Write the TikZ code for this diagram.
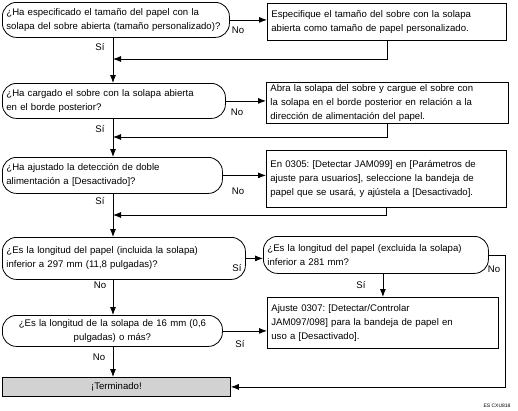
\documentclass[tikz,border=0pt]{standalone}
\usepackage{fontspec}
\setmainfont{Liberation Sans}
\usetikzlibrary{arrows.meta,positioning,calc}
\frenchspacing
\hyphenpenalty=10000

\begin{document}
\begin{tikzpicture}[
        x=1pt, y=-1pt,
        font=\fontsize{9.6}{14}\selectfont,
        question/.style={rectangle, draw=black, line width=0.8pt, rounded corners=14pt, anchor=north west, align=left, inner xsep=4pt, inner ysep=2pt},
        action/.style={rectangle, draw=black, line width=0.8pt, anchor=north west, align=left, inner xsep=4pt, inner ysep=2pt},
        finish/.style={rectangle, draw=black, line width=0.8pt, fill=gray!35, anchor=north west, align=center},
        lbl/.style={font=\fontsize{9.6}{11}\selectfont, inner sep=0pt},
        arrow/.style={-{Latex[length=8pt,width=6pt]}, line width=0.8pt},
        line/.style={line width=0.8pt}
    ]
    \useasboundingbox (0,0) rectangle (518,410);

    % main column
    \coordinate (spine) at (113,0);

    % Question 1
    \node[question, text width=219pt, minimum height=35pt] (q1) at (2,2) {¿Ha especificado el tamaño del papel con la\\solapa del sobre abierta (tamaño personalizado)?};
    \node[action, text width=231pt, minimum height=37pt] (a1) at (267,3) {Especifique el tamaño del sobre con la solapa\\abierta como tamaño de papel personalizado.};

    % Question 2
    \node[question, text width=215pt, minimum height=35pt] (q2) at (2,83) {¿Ha cargado el sobre con la solapa abierta\\en el borde posterior?};
    \node[action, text width=234pt, minimum height=40pt] (a2) at (266,82) {Abra la solapa del sobre y cargue el sobre con\\la solapa en el borde posterior en relación a la\\dirección de alimentación del papel.};

    % Question 3
    \node[question, text width=212pt, minimum height=36pt] (q3) at (2,157) {¿Ha ajustado la detección de doble\\alimentación a [Desactivado]?};
    \node[action, text width=232pt, minimum height=57pt] (a3) at (266,150) {En 0305: [Detectar JAM099] en [Parámetros de\\ajuste para usuarios], seleccione la bandeja de\\papel que se usará, y ajústela a [Desactivado].};

    % Question 4 and 5
    \node[question, text width=235pt, minimum height=42pt] (q4) at (2,237) {¿Es la longitud del papel (incluida la solapa)\\inferior a 297 mm (11,8 pulgadas)?};
    \node[question, text width=217pt, minimum height=37pt] (q5) at (263,236) {¿Es la longitud del papel (excluida la solapa)\\inferior a 281 mm?};

    % Question 6
    \node[question, align=center, text width=212pt, minimum height=31pt] (q6) at (2,315) {¿Es la longitud de la solapa de 16 mm (0,6\\pulgadas) o más?};
    \node[action, text width=223pt, minimum height=51pt] (a4) at (267,297) {Ajuste 0307: [Detectar/Controlar\\JAM097/098] para la bandeja de papel en\\uso a [Desactivado].};

    % End
    \node[finish, minimum width=228pt, minimum height=19pt] (done) at (2,377) {¡Terminado!};

    % return points
    \coordinate (r1) at (113,59);
    \coordinate (r2) at (113,137);
    \coordinate (r3) at (113,215);
    \coordinate (c5) at (505,0);

    % Arrows
    \draw[arrow] (q1.east) -- (q1.east -| a1.west);
    \draw[arrow] (q2.east) -- (q2.east -| a2.west);
    \draw[arrow] (q3.east) -- (q3.east -| a3.west);
    \draw[arrow] (q4.east) -- (q4.east -| q5.west);
    \draw[arrow] (q6.east) -- (q6.east -| a4.west);
    \draw[arrow] (a1.south) |- (r1);
    \draw[arrow] (a2.south) |- (r2);
    \draw[arrow] (a3.south) |- (r3);
    \draw[arrow] (spine |- q1.south) -- (spine |- q2.north);
    \draw[arrow] (spine |- q2.south) -- (spine |- q3.north);
    \draw[arrow] (spine |- q3.south) -- (spine |- q4.north);
    \draw[arrow] (spine |- q4.south) -- (spine |- q6.north);
    \draw[arrow] (spine |- q6.south) -- (spine |- done.north);
    \draw[arrow] (a4.north |- q5.south) -- (a4.north);
    \draw[arrow] (q5.east) -| (c5 |- done.east) -- (done.east);

    % Labels
    \node[lbl] (s1) at (100,47) {Sí};
    \node[lbl] (n1) at (238,30) {No};
    \node[lbl] (s2) at (100,129) {Sí};
    \node[lbl] (n2) at (237,112) {No};
    \node[lbl] (s3) at (100,201) {Sí};
    \node[lbl] (n3) at (238,191) {No};
    \node[lbl] (s4) at (237,268) {Sí};
    \node[lbl] (n4) at (100,285) {No};
    \node[lbl] (s5) at (361,285) {Sí};
    \node[lbl] (n5) at (494,269) {No};
    \node[lbl] (s6) at (240,344) {Sí};
    \node[lbl] (n6) at (99,357) {No};

    % code
    \node[font=\fontsize{5}{5}\selectfont, inner sep=0pt] (code) at (497,406) {ES CXU818};

\end{tikzpicture}
\end{document}
